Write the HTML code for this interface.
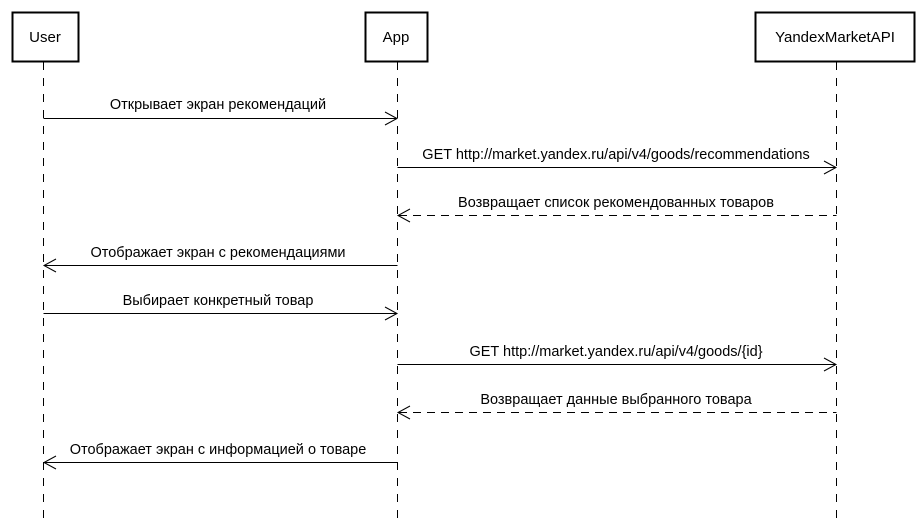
<!DOCTYPE html>
<html><head><meta charset="utf-8"><style>body{margin:0;background:#fff}</style></head>
<body>
<svg width="922" height="523" xmlns="http://www.w3.org/2000/svg" font-family="Liberation Sans, sans-serif" font-size="14.5">
<rect width="922" height="523" fill="#fff"/>
<g fill="#fff" stroke="#000" stroke-width="2">
<rect x="12.5" y="12.5" width="66" height="49"/>
<rect x="365.5" y="12.5" width="62" height="49"/>
<rect x="755.5" y="12.5" width="159" height="49"/>
</g>
<g text-anchor="middle" font-size="15">
<text x="45" y="42">User</text>
<text x="396" y="42">App</text>
<text x="835" y="42">YandexMarketAPI</text>
</g>
<g stroke="#000" stroke-width="1" stroke-dasharray="8,8">
<line x1="43.5" y1="62" x2="43.5" y2="523"/>
<line x1="397.5" y1="62" x2="397.5" y2="523"/>
<line x1="836.5" y1="62" x2="836.5" y2="523"/>
</g>
<g stroke="#000" stroke-width="1" fill="none">
<line x1="43.5" y1="118.5" x2="396" y2="118.5"/><polyline points="385,112 397,118.5 385,125"/>
<line x1="397.5" y1="167.5" x2="835" y2="167.5"/><polyline points="824,161 836,167.5 824,174"/>
<line x1="399" y1="215.5" x2="836.5" y2="215.5" stroke-dasharray="8,6"/><polyline points="410,209 398,215.5 410,222"/>
<line x1="45" y1="265.5" x2="397.5" y2="265.5"/><polyline points="56,259 44,265.5 56,272"/>
<line x1="43.5" y1="313.5" x2="396" y2="313.5"/><polyline points="385,307 397,313.5 385,320"/>
<line x1="397.5" y1="364.5" x2="835" y2="364.5"/><polyline points="824,358 836,364.5 824,371"/>
<line x1="399" y1="412.5" x2="836.5" y2="412.5" stroke-dasharray="8,6"/><polyline points="410,406 398,412.5 410,419"/>
<line x1="45" y1="462.5" x2="397.5" y2="462.5"/><polyline points="56,456 44,462.5 56,469"/>
</g>
<g text-anchor="middle">
<text x="218" y="109">Открывает экран рекомендаций</text>
<text x="616" y="159">GET http://market.yandex.ru/api/v4/goods/recommendations</text>
<text x="616" y="207">Возвращает список рекомендованных товаров</text>
<text x="218" y="257">Отображает экран с рекомендациями</text>
<text x="218" y="305">Выбирает конкретный товар</text>
<text x="616" y="356">GET http://market.yandex.ru/api/v4/goods/{id}</text>
<text x="616" y="404">Возвращает данные выбранного товара</text>
<text x="218" y="454">Отображает экран с информацией о товаре</text>
</g>
</svg>
</body></html>
